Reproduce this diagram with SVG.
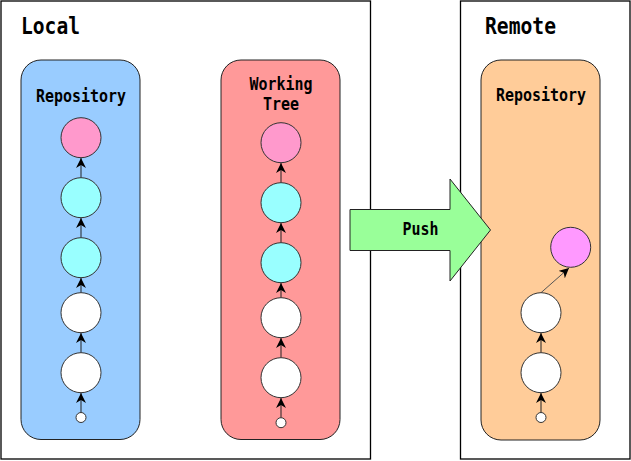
<svg xmlns="http://www.w3.org/2000/svg" width="631" height="461" viewBox="0 0 631 461">
<style>
.frame{fill:#fff;stroke:#000;stroke-width:1.3}
.lane{stroke:#222;stroke-width:1}
.c{stroke:#333;stroke-width:1}
.w{fill:#fff}.cy{fill:#99FFFF}.pk{fill:#FF99CC}.mg{fill:#FF99FF}
.t{font-family:"DejaVu Sans Mono","Liberation Mono",monospace;font-weight:bold;fill:#000}
.big{font-size:23px}
.mid{font-size:17px}
.edge{stroke:#222;stroke-width:1;fill:none;marker-end:url(#ah)}
</style>
<defs>
<marker id="ah" viewBox="0 0 10 10" refX="10" refY="5" markerWidth="10" markerHeight="10" markerUnits="userSpaceOnUse" orient="auto">
<path d="M0,0 L10,5 L0,10 L3,5 Z" fill="#000"/>
</marker>
</defs>
<rect width="631" height="461" fill="#fff"/>
<g id="local">
<rect class="frame" x="1" y="1" width="369.5" height="458"/>
<text class="t big" x="21" y="34" textLength="59" lengthAdjust="spacingAndGlyphs">Local</text>
</g>
<g id="remote">
<rect class="frame" x="460.5" y="1" width="169.5" height="458"/>
<text class="t big" x="485" y="34" textLength="71" lengthAdjust="spacingAndGlyphs">Remote</text>
</g>
<g id="local-repo">
<rect class="lane" x="21" y="60" width="119" height="379.5" rx="20" fill="#99CCFF"/>
<text class="t mid" x="81" y="101.5" text-anchor="middle" textLength="90" lengthAdjust="spacingAndGlyphs">Repository</text>
</g>
<g id="working-tree">
<rect class="lane" x="221" y="60" width="119" height="379.5" rx="20" fill="#FF9999"/>
<text class="t mid" x="281" y="89.5" text-anchor="middle" textLength="63" lengthAdjust="spacingAndGlyphs">Working</text>
<text class="t mid" x="281" y="110" text-anchor="middle" textLength="36" lengthAdjust="spacingAndGlyphs">Tree</text>
</g>
<g id="remote-repo">
<rect class="lane" x="481" y="60" width="119" height="380" rx="20" fill="#FFCC99"/>
<text class="t mid" x="541" y="100.5" text-anchor="middle" textLength="90" lengthAdjust="spacingAndGlyphs">Repository</text>
</g>
<g id="push">
<path d="M350,209.5 H450 V179 L490.5,230 L450,281 V250.5 H350 Z" fill="#99FF99" stroke="#222" stroke-width="1"/>
<text class="t mid" x="420.5" y="234.5" text-anchor="middle" textLength="36" lengthAdjust="spacingAndGlyphs">Push</text>
</g>
<g id="connectors">
<line class="edge" x1="81" y1="412.5" x2="81" y2="393"/>
<line class="edge" x1="81" y1="352.7" x2="81" y2="333"/>
<line class="edge" x1="81" y1="292.7" x2="81" y2="278"/>
<line class="edge" x1="81" y1="237.7" x2="81" y2="218"/>
<line class="edge" x1="81" y1="177.7" x2="81" y2="158"/>
<line class="edge" x1="281" y1="417.7" x2="281" y2="398"/>
<line class="edge" x1="281" y1="357.7" x2="281" y2="338"/>
<line class="edge" x1="281" y1="297.7" x2="281" y2="283"/>
<line class="edge" x1="281" y1="242.7" x2="281" y2="223"/>
<line class="edge" x1="281" y1="182.7" x2="281" y2="163"/>
<line class="edge" x1="541" y1="412.5" x2="541" y2="393"/>
<line class="edge" x1="541" y1="352.7" x2="541" y2="333"/>
<line class="edge" x1="541" y1="292.7" x2="569" y2="268" style="stroke:#555"/>
</g>
<g id="local-commits">
<circle class="c pk" cx="81" cy="137.7" r="20"/>
<circle class="c cy" cx="81" cy="197.7" r="20"/>
<circle class="c cy" cx="81" cy="257.7" r="20"/>
<circle class="c w" cx="81" cy="312.7" r="20"/>
<circle class="c w" cx="81" cy="372.7" r="20"/>
<circle class="c w" cx="81" cy="417.5" r="5"/>
</g>
<g id="wt-commits">
<circle class="c pk" cx="281" cy="142.7" r="20"/>
<circle class="c cy" cx="281" cy="202.7" r="20"/>
<circle class="c cy" cx="281" cy="262.7" r="20"/>
<circle class="c w" cx="281" cy="317.7" r="20"/>
<circle class="c w" cx="281" cy="377.7" r="20"/>
<circle class="c w" cx="281" cy="422.7" r="5"/>
</g>
<g id="remote-commits">
<circle class="c mg" cx="570.7" cy="247.3" r="20"/>
<circle class="c w" cx="541" cy="312.7" r="20"/>
<circle class="c w" cx="541" cy="372.7" r="20"/>
<circle class="c w" cx="541" cy="417.5" r="5"/>
</g>
</svg>
